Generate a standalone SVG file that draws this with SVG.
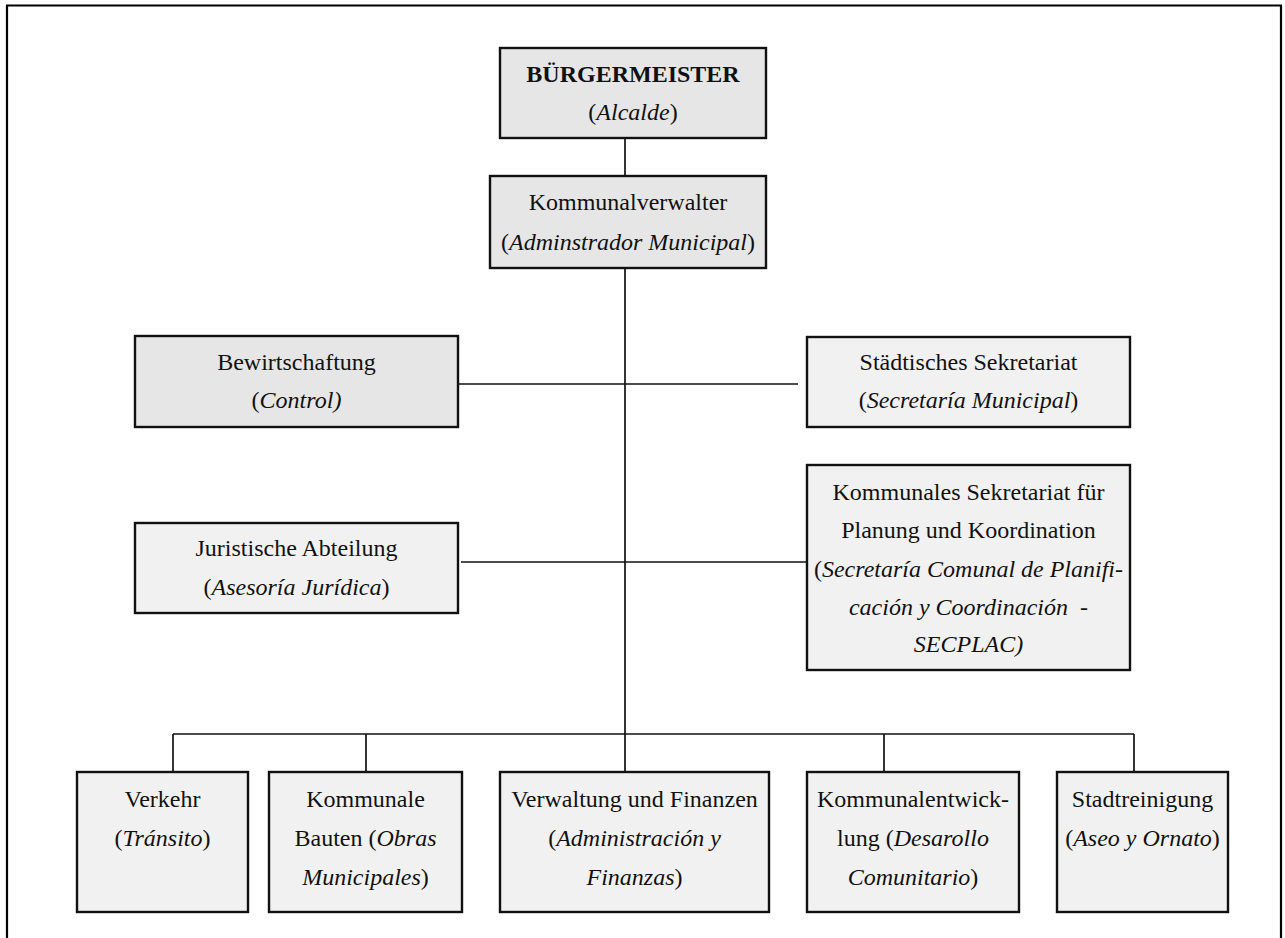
<svg xmlns="http://www.w3.org/2000/svg" width="1285" height="938" viewBox="0 0 1285 938">
<style>
  .box { stroke: #111; stroke-width: 2.4; }
  .dark { fill: #e6e6e6; }
  .light { fill: #f1f1f1; }
  text { font-family: "Liberation Serif", "Times New Roman", serif; font-size: 24px; fill: #111; text-anchor: middle; white-space: pre; }
  .b { font-weight: bold; }
  .i { font-style: italic; }
  .conn line { stroke: #111; stroke-width: 1.7; fill: none; }
  .frame line { stroke: #000; stroke-width: 2.2; }
</style>
<rect x="0" y="0" width="1285" height="938" fill="#fff"/>
<g class="frame">
  <line x1="6" y1="5.5" x2="1282" y2="5.5"/>
  <line x1="7" y1="5" x2="7" y2="938"/>
  <line x1="1281" y1="5" x2="1281" y2="938"/>
</g>
<g class="conn" id="connectors">
  <line x1="625" y1="138" x2="625" y2="176"/>
  <line x1="625" y1="268" x2="625" y2="772"/>
  <line x1="452" y1="384" x2="798" y2="384"/>
  <line x1="461" y1="562" x2="807" y2="562"/>
  <line x1="173" y1="734" x2="1134" y2="734"/>
  <line x1="173" y1="734" x2="173" y2="772"/>
  <line x1="366" y1="734" x2="366" y2="772"/>
  <line x1="884" y1="734" x2="884" y2="772"/>
  <line x1="1134" y1="734" x2="1134" y2="772"/>
</g>
<g id="buergermeister">
  <rect class="box dark" x="500" y="48" width="266" height="90"/>
  <text x="633" y="82" class="b">BÜRGERMEISTER</text>
  <text x="633" y="120">(<tspan class="i">Alcalde</tspan>)</text>
</g>
<g id="kommunalverwalter">
  <rect class="box dark" x="490" y="176" width="276" height="92"/>
  <text x="628" y="210">Kommunalverwalter</text>
  <text x="628" y="250">(<tspan class="i">Adminstrador Municipal</tspan>)</text>
</g>
<g id="bewirtschaftung">
  <rect class="box dark" x="135" y="336" width="323" height="91"/>
  <text x="296.5" y="370">Bewirtschaftung</text>
  <text x="296.5" y="408">(<tspan class="i">Control)</tspan></text>
</g>
<g id="staedtisches-sekretariat">
  <rect class="box light" x="807" y="337" width="323" height="90"/>
  <text x="968.5" y="370">Städtisches Sekretariat</text>
  <text x="968.5" y="408">(<tspan class="i">Secretaría Municipal</tspan>)</text>
</g>
<g id="juristische-abteilung">
  <rect class="box light" x="135" y="523" width="323" height="90"/>
  <text x="296.5" y="556">Juristische Abteilung</text>
  <text x="296.5" y="595">(<tspan class="i">Asesoría Jurídica</tspan>)</text>
</g>
<g id="secplac">
  <rect class="box light" x="807" y="465" width="323" height="205"/>
  <text x="968.5" y="500">Kommunales Sekretariat für</text>
  <text x="968.5" y="538">Planung und Koordination</text>
  <text x="968.5" y="577">(<tspan class="i">Secretaría Comunal de Planifi-</tspan></text>
  <text x="968.5" y="615" class="i">cación y Coordinación  -</text>
  <text x="968.5" y="652" class="i">SECPLAC)</text>
</g>
<g id="verkehr">
  <rect class="box light" x="77" y="772" width="171" height="140"/>
  <text x="162.5" y="807">Verkehr</text>
  <text x="162.5" y="846">(<tspan class="i">Tránsito</tspan>)</text>
</g>
<g id="kommunale-bauten">
  <rect class="box light" x="269" y="772" width="193" height="140"/>
  <text x="365.5" y="807">Kommunale</text>
  <text x="365.5" y="846">Bauten (<tspan class="i">Obras</tspan></text>
  <text x="365.5" y="885"><tspan class="i">Municipales</tspan>)</text>
</g>
<g id="verwaltung-finanzen">
  <rect class="box light" x="500" y="772" width="269" height="140"/>
  <text x="634.5" y="807">Verwaltung und Finanzen</text>
  <text x="634.5" y="846">(<tspan class="i">Administración y</tspan></text>
  <text x="634.5" y="885"><tspan class="i">Finanzas</tspan>)</text>
</g>
<g id="kommunalentwicklung">
  <rect class="box light" x="807" y="772" width="212" height="140"/>
  <text x="913" y="807">Kommunalentwick-</text>
  <text x="913" y="846">lung (<tspan class="i">Desarollo</tspan></text>
  <text x="913" y="885"><tspan class="i">Comunitario</tspan>)</text>
</g>
<g id="stadtreinigung">
  <rect class="box light" x="1057" y="772" width="171" height="140"/>
  <text x="1142.5" y="807">Stadtreinigung</text>
  <text x="1142.5" y="846">(<tspan class="i">Aseo y Ornato</tspan>)</text>
</g>
</svg>
